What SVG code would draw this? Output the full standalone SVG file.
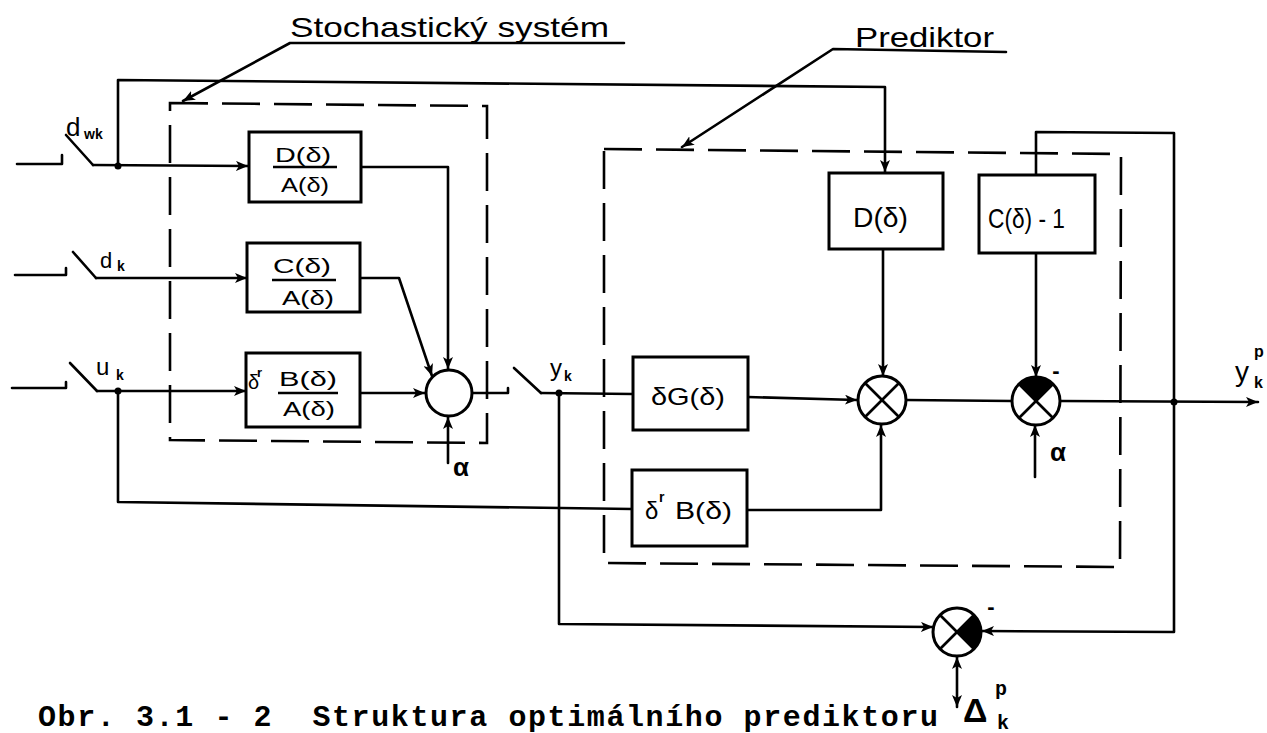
<svg xmlns="http://www.w3.org/2000/svg" width="1267" height="733" viewBox="0 0 1267 733">
<style>
.ln{fill:none;stroke:#000;stroke-width:2.6;stroke-linejoin:round;stroke-linecap:round}
.box{fill:#fff;stroke:#000;stroke-width:3}
.dash{fill:none;stroke:#000;stroke-width:2.6;stroke-dasharray:38 14}
.sum{fill:#fff;stroke:#000;stroke-width:3}
.x{stroke:#000;stroke-width:2.6}
.hw{font-family:"Liberation Sans",Arial,sans-serif;fill:#000}
.tw{font-family:"Liberation Mono","Courier New",monospace;font-weight:bold;fill:#000}
.dot{fill:#000}
</style>
<defs>
<marker id="ar" markerWidth="13" markerHeight="10" refX="12" refY="5" orient="auto-start-reverse" markerUnits="userSpaceOnUse">
<path d="M0,0 L12,5 L0,10 L3,5 Z" fill="#000"/>
</marker>
</defs>
<rect width="1267" height="733" fill="#fff"/>

<g id="frames">
<polygon class="dash" points="170,103 487,106 487,443 170,440"/>
<polygon class="dash" points="604,149 1121,154 1120,567 604,563"/>
</g>

<g id="connectors">
<polyline class="ln" points="624,43 290,43 183,101" marker-end="url(#ar)"/>
<polyline class="ln" points="1006,52 833,49 682,147" marker-end="url(#ar)"/>
<polyline class="ln" points="17,164 62,164 62,155"/>
<line class="ln" x1="66" y1="135" x2="93" y2="165"/>
<line class="ln" x1="93" y1="165" x2="248" y2="166" marker-end="url(#ar)"/>
<polyline class="ln" points="118,166 118,80 885,87 885,172" marker-end="url(#ar)"/>
<polyline class="ln" points="15,275 66,275 66,268"/>
<line class="ln" x1="73" y1="252" x2="96" y2="278"/>
<line class="ln" x1="96" y1="278" x2="247" y2="278" marker-end="url(#ar)"/>
<polyline class="ln" points="12,388 66,388 66,382"/>
<line class="ln" x1="70" y1="363" x2="97" y2="391"/>
<line class="ln" x1="97" y1="391" x2="246" y2="391" marker-end="url(#ar)"/>
<polyline class="ln" points="118,391 118,502 632,509"/>
<polyline class="ln" points="362,167 448,167 448,369" marker-end="url(#ar)"/>
<polyline class="ln" points="360,278 399,278 432,376" marker-end="url(#ar)"/>
<line class="ln" x1="360" y1="393" x2="425" y2="393" marker-end="url(#ar)"/>
<line class="ln" x1="448" y1="463" x2="448" y2="417" marker-end="url(#ar)"/>
<polyline class="ln" points="472,393 508,393 508,388"/>
<line class="ln" x1="514" y1="368" x2="541" y2="393"/>
<line class="ln" x1="541" y1="393" x2="633" y2="394"/>
<polyline class="ln" points="559,393 559,624 933,627" marker-end="url(#ar)"/>
<line class="ln" x1="748" y1="397" x2="857" y2="400" marker-end="url(#ar)"/>
<line class="ln" x1="883" y1="250" x2="883" y2="376" marker-end="url(#ar)"/>
<polyline class="ln" points="747,510 881,510 881,425" marker-end="url(#ar)"/>
<line class="ln" x1="906" y1="400" x2="1012" y2="401"/>
<line class="ln" x1="1036" y1="253" x2="1036" y2="377" marker-end="url(#ar)"/>
<line class="ln" x1="1035" y1="477" x2="1035" y2="425" marker-end="url(#ar)"/>
<line class="ln" x1="1060" y1="401" x2="1258" y2="402" marker-end="url(#ar)"/>
<polyline class="ln" points="1036,175 1036,132 1174,133 1174,632 982,631" marker-end="url(#ar)"/>
<line class="ln" x1="957" y1="657" x2="957" y2="707" marker-start="url(#ar)" marker-end="url(#ar)"/>
<circle class="dot" cx="118" cy="166" r="3.5"/>
<circle class="dot" cx="118" cy="391" r="3.5"/>
<circle class="dot" cx="559" cy="393" r="3.5"/>
<circle class="dot" cx="1174" cy="402" r="3.5"/>
</g>

<g id="titles">
<text class="hw" x="290" y="37" font-size="28" textLength="319" lengthAdjust="spacingAndGlyphs">Stochastický systém</text>
<text class="hw" x="855" y="47" font-size="28" textLength="139" lengthAdjust="spacingAndGlyphs">Prediktor</text>
</g>

<g id="inputs">
<text class="hw" x="66" y="136" font-size="26">d</text>
<text class="hw" x="84" y="139" font-size="14" font-weight="bold">wk</text>
<text class="hw" x="100" y="268" font-size="22">d</text>
<text class="hw" x="117" y="271" font-size="14" font-weight="bold">k</text>
<text class="hw" x="96" y="375" font-size="24">u</text>
<text class="hw" x="116" y="380" font-size="14" font-weight="bold">k</text>
</g>

<g id="block-DA">
<rect class="box" x="249" y="132" width="112" height="70"/>
<text class="hw" x="303" y="162" font-size="20" text-anchor="middle" textLength="56" lengthAdjust="spacingAndGlyphs">D(δ)</text>
<line class="x" x1="273" y1="167" x2="337" y2="167"/>
<text class="hw" x="305" y="192" font-size="20" text-anchor="middle" textLength="48" lengthAdjust="spacingAndGlyphs">A(δ)</text>
</g>

<g id="block-CA">
<rect class="box" x="247" y="243" width="113" height="69"/>
<text class="hw" x="302" y="273" font-size="20" text-anchor="middle" textLength="58" lengthAdjust="spacingAndGlyphs">C(δ)</text>
<line class="x" x1="272" y1="280" x2="336" y2="280"/>
<text class="hw" x="308" y="305" font-size="20" text-anchor="middle" textLength="52" lengthAdjust="spacingAndGlyphs">A(δ)</text>
</g>

<g id="block-BA">
<rect class="box" x="246" y="353" width="114" height="74"/>
<text class="hw" x="248" y="389" font-size="20">δ</text>
<text class="hw" x="257" y="377" font-size="13" font-weight="bold">r</text>
<text class="hw" x="308" y="386" font-size="20" text-anchor="middle" textLength="58" lengthAdjust="spacingAndGlyphs">B(δ)</text>
<line class="x" x1="278" y1="393" x2="338" y2="393"/>
<text class="hw" x="309" y="416" font-size="20" text-anchor="middle" textLength="52" lengthAdjust="spacingAndGlyphs">A(δ)</text>
</g>

<g id="sum-stochastic">
<circle class="sum" cx="449" cy="393" r="23"/>
<text class="hw" x="453" y="476" font-size="26" font-weight="bold">α</text>
</g>

<g id="output-yk">
<text class="hw" x="550" y="376" font-size="24">y</text>
<text class="hw" x="564" y="381" font-size="14" font-weight="bold">k</text>
</g>

<g id="block-D">
<rect class="box" x="829" y="173" width="114" height="76"/>
<text class="hw" x="853" y="227" font-size="28" textLength="55" lengthAdjust="spacingAndGlyphs">D(δ)</text>
</g>

<g id="block-C1">
<rect class="box" x="979" y="175" width="116" height="78"/>
<text class="hw" x="988" y="228" font-size="28" textLength="77" lengthAdjust="spacingAndGlyphs">C(δ) - 1</text>
</g>

<g id="block-sG">
<rect class="box" x="633" y="357" width="115" height="73"/>
<text class="hw" x="651" y="405" font-size="24" textLength="74" lengthAdjust="spacingAndGlyphs">δG(δ)</text>
</g>

<g id="block-sB">
<rect class="box" x="632" y="470" width="115" height="76"/>
<text class="hw" x="645" y="519" font-size="24">δ</text>
<text class="hw" x="659" y="502" font-size="14" font-weight="bold">r</text>
<text class="hw" x="675" y="519" font-size="24" textLength="57" lengthAdjust="spacingAndGlyphs">B(δ)</text>
</g>

<g id="sum-1">
<circle class="sum" cx="882" cy="400" r="24"/>
<line class="x" x1="865" y1="383" x2="899" y2="417"/>
<line class="x" x1="899" y1="383" x2="865" y2="417"/>
</g>

<g id="sum-2">
<circle class="sum" cx="1036" cy="401" r="24"/>
<path d="M1036,401 L1019,384 A24,24 0 0 1 1053,384 Z" fill="#000"/>
<line class="x" x1="1019" y1="384" x2="1053" y2="418"/>
<line class="x" x1="1053" y1="384" x2="1019" y2="418"/>
<text class="hw" x="1056" y="378" font-size="22" font-weight="bold" text-anchor="middle">-</text>
<text class="hw" x="1050" y="461" font-size="26" font-weight="bold">α</text>
</g>

<g id="output-ykp">
<text class="hw" x="1235" y="381" font-size="28">y</text>
<text class="hw" x="1254" y="357" font-size="16" font-weight="bold">p</text>
<text class="hw" x="1254" y="388" font-size="16" font-weight="bold">k</text>
</g>

<g id="sum-error">
<circle class="sum" cx="957" cy="632" r="24"/>
<path d="M957,632 L974,615 A24,24 0 0 1 974,649 Z" fill="#000"/>
<line class="x" x1="940" y1="615" x2="974" y2="649"/>
<line class="x" x1="974" y1="615" x2="940" y2="649"/>
<text class="hw" x="991" y="614" font-size="22" font-weight="bold" text-anchor="middle">-</text>
<text class="hw" x="963" y="722" font-size="34" font-weight="bold">Δ</text>
<text class="tw" x="995" y="695" font-size="20">p</text>
<text class="tw" x="997" y="729" font-size="20">k</text>
</g>

<g id="caption">
<text class="tw" x="38" y="726" font-size="30" textLength="900" lengthAdjust="spacing" xml:space="preserve">Obr. 3.1 - 2  Struktura optimálního prediktoru</text>
</g>
</svg>
